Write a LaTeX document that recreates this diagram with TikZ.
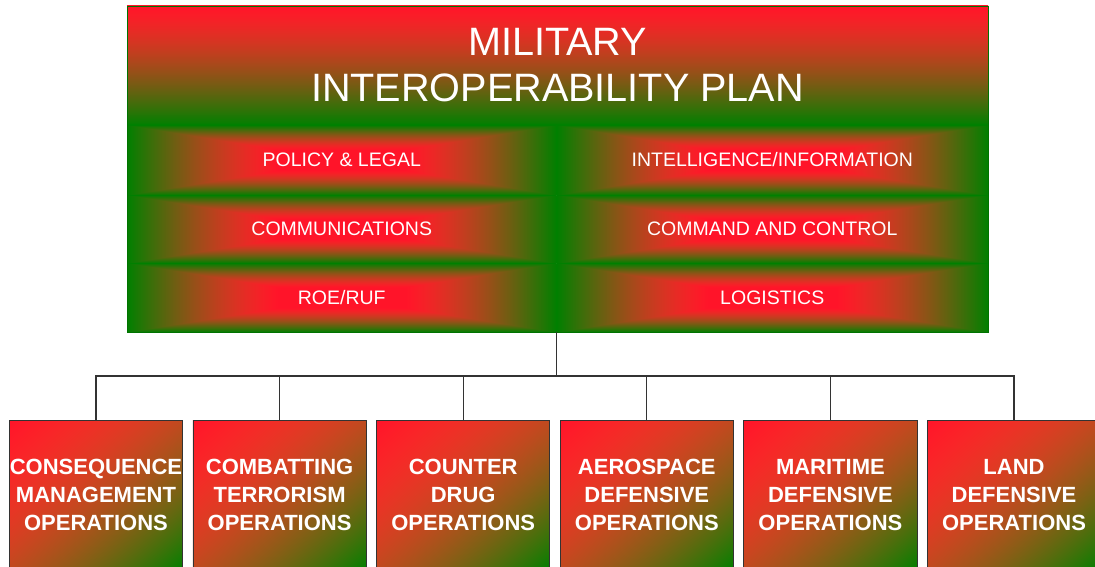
\documentclass[tikz,border=0pt]{standalone}
\usepackage{fontspec}
\setmainfont{Liberation Sans}
% red (top) -> green (bottom)
\pgfdeclarefunctionalshading{bandshade}{\pgfpointorigin}{\pgfpoint{100bp}{100bp}}{}{
  exch pop 75 exch sub 50 div
  dup 0 lt {pop 0} if dup 1 gt {pop 1} if
  dup dup sqrt mul 1 exch sub
  dup 0.16 mul
  3 1 roll
  exch 0.42 mul 0.08 add
  3 -1 roll
}
% red centre -> green edges (rectangular gradient)
\pgfdeclarefunctionalshading{cellshade}{\pgfpointorigin}{\pgfpoint{100bp}{100bp}}{}{
  50 sub abs 25 div
  exch 50 sub abs 25 div
  2 copy lt {exch} if pop
  0.3 sub 0.7 div
  dup 0 lt {pop 0} if dup 1 gt {pop 1} if
  dup dup sqrt mul 1 exch sub
  dup 0.16 mul
  3 1 roll
  exch 0.42 mul 0.08 add
  3 -1 roll
}
% red top-left -> green bottom-right
\pgfdeclarefunctionalshading{boxshade}{\pgfpointorigin}{\pgfpoint{100bp}{100bp}}{}{
  sub 50 add 100 div
  dup 0 lt {pop 0} if dup 1 gt {pop 1} if
  dup dup mul 1 exch sub
  dup 0.16 mul
  3 1 roll
  exch 0.42 mul 0.08 add
  3 -1 roll
}
\begin{document}
\begin{tikzpicture}[x=1pt,y=-1pt,
  band/.style={shade, shading=bandshade, inner sep=0pt, outer sep=0pt,
    text=white, align=center, font=\fontsize{39.6}{46}\selectfont},
  cell/.style={shade, shading=cellshade, inner sep=0pt, outer sep=0pt,
    text=white, font=\fontsize{19.5}{23}\selectfont},
  opbox/.style={shade, shading=boxshade, draw=black!80, line width=0.9pt,
    inner sep=0pt, outer sep=0pt, minimum width=173.3pt, minimum height=149.3pt,
    text=white, align=center, font=\bfseries\fontsize{22}{28}\selectfont},
  frame/.style={draw=green!45!black, line width=0.8pt, inner sep=0pt, outer sep=0pt},
  link/.style={draw=black!80, line width=1.1pt}]
\useasboundingbox (0,0) rectangle (1095,567);
\clip (0,0) rectangle (1095,567);

% top plan
\node[band, minimum width=861pt, minimum height=119pt] (band) at (557.5,65.5)
  {MILITARY\\INTEROPERABILITY PLAN};
\node[cell, minimum width=429.5pt, minimum height=70pt] (c1) at (341.75,160) {POLICY \& LEGAL};
\node[cell, minimum width=431.5pt, minimum height=70pt] (c2) at (772.25,160) {INTELLIGENCE/INFORMATION};
\node[cell, minimum width=429.5pt, minimum height=68pt] (c3) at (341.75,229) {COMMUNICATIONS};
\node[cell, minimum width=431.5pt, minimum height=68pt] (c4) at (772.25,229) {COMMAND AND CONTROL};
\node[cell, minimum width=429.5pt, minimum height=69pt] (c5) at (341.75,297.5) {ROE/RUF};
\node[cell, minimum width=431.5pt, minimum height=69pt] (c6) at (772.25,297.5) {LOGISTICS};
\node[frame, minimum width=861pt, minimum height=326pt] (plan) at (557.5,169) {};

% operations
\node[opbox] (b1) at (96,495.3) {CONSEQUENCE\\MANAGEMENT\\OPERATIONS};
\node[opbox] (b2) at (279.6,495.3) {COMBATTING\\TERRORISM\\OPERATIONS};
\node[opbox] (b3) at (463.2,495.3) {COUNTER\\DRUG\\OPERATIONS};
\node[opbox] (b4) at (646.8,495.3) {AEROSPACE\\DEFENSIVE\\OPERATIONS};
\node[opbox] (b5) at (830.4,495.3) {MARITIME\\DEFENSIVE\\OPERATIONS};
\node[opbox] (b6) at (1014,495.3) {LAND\\DEFENSIVE\\OPERATIONS};

% connectors
\coordinate (hub) at (c5.south east |- 0,376);
\draw[link] (c5.south east) -- (hub);
\draw[link] (b1.north) |- (hub) -| (b6.north);
\foreach \b in {b2,b3,b4,b5}
  \draw[link] (\b.north) -- (\b.north |- hub);
\end{tikzpicture}
\end{document}
